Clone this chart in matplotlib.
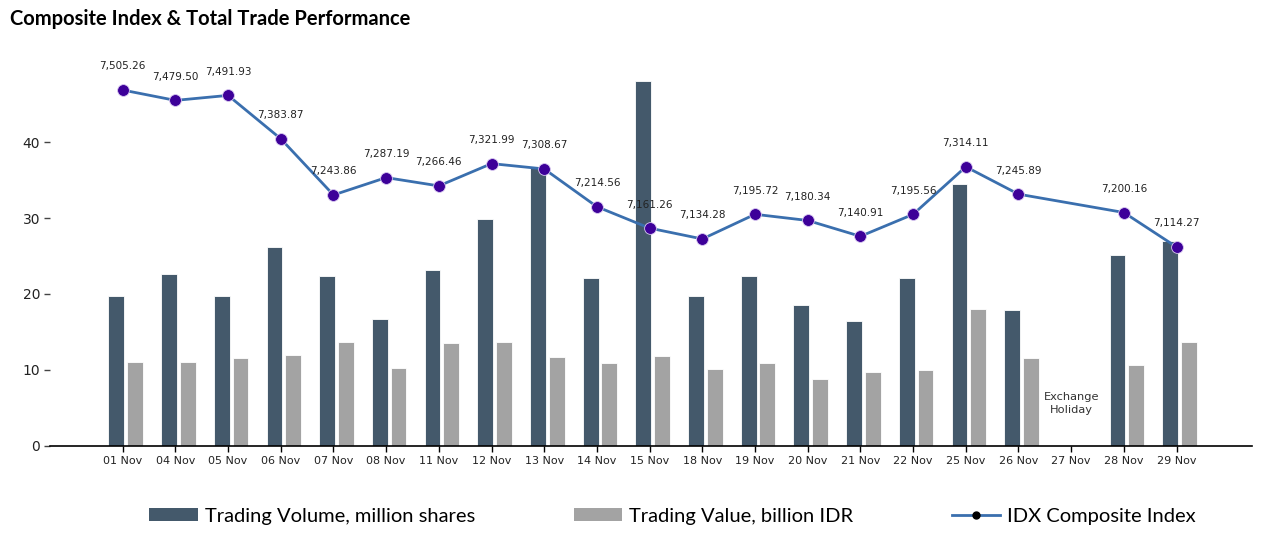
import numpy as np
import matplotlib
matplotlib.use("Agg")
import matplotlib.pyplot as plt
from matplotlib.lines import Line2D
from matplotlib.patches import Patch

dates = ["01 Nov", "04 Nov", "05 Nov", "06 Nov", "07 Nov", "08 Nov", "11 Nov",
         "12 Nov", "13 Nov", "14 Nov", "15 Nov", "18 Nov", "19 Nov", "20 Nov",
         "21 Nov", "22 Nov", "25 Nov", "26 Nov", "27 Nov", "28 Nov", "29 Nov"]
volume = [19.7, 22.6, 19.7, 26.2, 22.4, 16.7, 23.2, 29.9, 36.7, 22.1, 48.0,
          19.7, 22.4, 18.6, 16.4, 22.1, 34.5, 17.9, np.nan, 25.1, 27.0]
value = [11.05, 11.05, 11.6, 12.0, 13.7, 10.3, 13.55, 13.7, 11.7, 10.9, 11.8,
         10.1, 10.9, 8.8, 9.7, 10.0, 18.0, 11.6, np.nan, 10.6, 13.65]
index = [7505.26, 7479.50, 7491.93, 7383.87, 7243.86, 7287.19, 7266.46,
         7321.99, 7308.67, 7214.56, 7161.26, 7134.28, 7195.72, 7180.34,
         7140.91, 7195.56, 7314.11, 7245.89, np.nan, 7200.16, 7114.27]

DARK = "#44596b"
GREY = "#a3a3a3"
LINE = "#3a6fae"
DOT = "#3d0099"

fig = plt.figure(figsize=(12.62, 5.35), dpi=100)
ax = fig.add_axes([0.0396, 0.1664, 0.9524, 0.7102])
x = np.arange(len(dates))
vol = np.array(volume, dtype=float)
val = np.array(value, dtype=float)
ok = ~np.isnan(vol)
ax.bar(x[ok] - 0.12, vol[ok], width=0.3, color=DARK, edgecolor="white", linewidth=0.6)
ax.bar(x[ok] + 0.235, val[ok], width=0.3, color=GREY, edgecolor="white", linewidth=0.6)
ax.set_xlim(-1.38, 21.43)
ax.set_ylim(0, 50)
ax.set_xticks(x)
ax.set_xticklabels(dates, fontsize=8, color="#222222")
ax.set_yticks([0, 10, 20, 30, 40])
ax.set_yticklabels(["0", "10", "20", "30", "40"], fontsize=10, color="#222222")
for s in ["top", "right", "left"]:
    ax.spines[s].set_visible(False)
ax.spines["bottom"].set_color("black")
ax.spines["bottom"].set_linewidth(1.2)
ax.tick_params(axis="x", length=4, width=1, color="black", pad=3)
ax.tick_params(axis="y", length=4, width=1, color="#444444", pad=3)

ax.text(18, 5.6, "Exchange\nHoliday", ha="center", va="center", fontsize=8.2, color="#333333",
        linespacing=1.4)

ax2 = ax.twinx()
ax2.set_ylim(6618.6, 6618.6 + 50 * 18.93)
ax2.axis("off")
idx = np.array(index, dtype=float)
m = ~np.isnan(idx)
ax2.plot(x[m], idx[m], color=LINE, linewidth=2, zorder=3)
ax2.plot(x[m], idx[m], linestyle="none", marker="o", markersize=8.5, color=DOT,
         markeredgecolor="#d8c8f0", markeredgewidth=0.6, zorder=4)
for xi, v in zip(x[m], idx[m]):
    ax2.annotate(f"{v:,.2f}", (xi, v), xytext=(0, 17), textcoords="offset points",
                 ha="center", va="center", fontsize=7.5, color="#222222")

fig.text(0.008, 0.965, "Composite Index & Total Trade Performance", fontsize=14.5,
         fontweight="bold", family="Lato", va="center", ha="left", color="black")

handles = [Patch(facecolor=DARK), Patch(facecolor=GREY),
           Line2D([0], [0], color=LINE, linewidth=2, marker="o", markersize=5,
                  markerfacecolor="black", markeredgecolor="black")]
labels = ["Trading Volume, million shares", "Trading Value, billion IDR", "IDX Composite Index"]
fig.legend(handles, labels, loc="center", bbox_to_anchor=(0.533, 0.035), ncol=3,
           frameon=False, prop={"family": "Lato", "size": 14.5}, handlelength=2.4,
           handleheight=0.6, handletextpad=0.35, columnspacing=4.9)

fig.savefig("out.png", dpi=100)
